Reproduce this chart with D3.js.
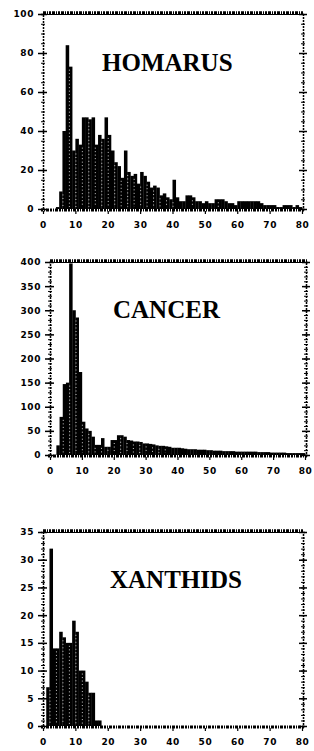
<!DOCTYPE html>
<html>
<head>
<meta charset="utf-8">
<script src="https://cdn.jsdelivr.net/npm/d3@7"></script>
<style>
  body { margin: 0; background: #fff; }
  .tick text { font-family: "DejaVu Sans", sans-serif; font-weight: bold; font-size: 9px; letter-spacing: 0.6px; }
  .title { font-family: "Liberation Serif", serif; font-weight: bold; font-size: 25px; }
</style>
</head>
<body>
<svg id="chart" width="314" height="751"></svg>
<script>
// counts per 1-unit bin, 0..79
var homarus = [0,0,0,0,1,9,40,84,73,30, 36,33,47,47,46,47,33,38,36,47,
               38,30,24,22,16,30,19,17,18,13, 19,17,14,11,12,11,7,8,6,5,
               15,6,4,4,7,7,6,4,4,3, 4,3,3,5,5,5,4,3,3,2,
               4,4,4,4,4,4,4,3,2,2, 2,2,1,1,2,2,2,1,2,1]
var cancer = [0,0,20,79,147,150,397,300,285,172, 69,55,50,38,21,21,35,17,17,31,
              31,41,41,38,31,30,28,28,27,24, 24,23,22,20,19,19,18,17,15,15,
              15,14,13,12,12,12,11,11,11,10, 10,9,9,9,8,8,8,8,7,7,
              7,7,7,7,7,6,6,6,6,5, 5,5,5,5,4,4,4,4,4,4]
var xanthids = [0,7,32,14,14,17,16,15,15,19, 17,10,10,8,6,6,1,1,0,0,
                0,0,0,0,0,0,0,0,0,0, 0,0,0,0,0,0,0,0,0,0,
                0,0,0,0,0,0,0,0,0,0, 0,0,0,0,0,0,0,0,0,0,
                0,0,0,0,0,0,0,0,0,0, 0,0,0,0,0,0,0,0,0,0]

var xTicks = [0,10,20,30,40,50,60,70,80]
var homarusTicks = [0,20,40,60,80,100]
var cancerTicks = [0,50,100,150,200,250,300,350,400]
var xanthidsTicks = [0,5,10,15,20,25,30,35]

var panels = [
    {name: "HOMARUS", data: homarus, ymax: 100, ticks: homarusTicks, minor: 5,
     left: 43, right: 302, top: 14, bottom: 209, tx: 102, ty: 71},
    {name: "CANCER", data: cancer, ymax: 400, ticks: cancerTicks, minor: 10,
     left: 50, right: 305, top: 262, bottom: 455, tx: 113, ty: 318},
    {name: "XANTHIDS", data: xanthids, ymax: 35, ticks: xanthidsTicks, minor: 1,
     left: 43, right: 302, top: 532, bottom: 726, tx: 110, ty: 588}
]

var svg = d3.select("#chart")

panels.forEach(function(p) {
    var x = d3.scaleLinear().domain([0, 80]).range([p.left, p.right])
    var y = d3.scaleLinear().domain([0, p.ymax]).range([p.bottom, p.top])
    var minorTicks = d3.range(0, p.ymax + 0.001, p.minor)

    var g = svg.append("g")

    // bars
    g.selectAll("rect.bar")
        .data(p.data)
        .enter()
        .append("rect")
        .attr("class", "bar")
        .attr("x", function(d, i) { return x(i) })
        .attr("width", function(d, i) { return x(i + 1) - x(i) + 0.3 })
        .attr("y", function(d) { return y(d) })
        .attr("height", function(d) { return y(0) - y(d) })
        .attr("fill", "#000")

    // white stipple between neighbouring bars
    g.selectAll("line.sep")
        .data(p.data.map(function(d, i) { return {i: i, h: i > 0 ? Math.min(d, p.data[i - 1]) : 0} })
            .filter(function(d) { return d.h > 4 * p.ymax / 100 && d.i % 2 == 0 }))
        .enter()
        .append("line")
        .attr("class", "sep")
        .attr("x1", function(d) { return x(d.i) + 0.5 })
        .attr("x2", function(d) { return x(d.i) + 0.5 })
        .attr("y1", function(d) { return y(d.h) + 3 })
        .attr("y2", y(0) - 2)
        .attr("stroke", "#fff")
        .attr("stroke-width", 0.8)
        .attr("stroke-dasharray", "1,2.5")

    // top frame (rough hatched band)
    g.append("line")
        .attr("x1", p.left).attr("x2", p.right + 2)
        .attr("y1", p.top - 1).attr("y2", p.top - 1)
        .attr("stroke", "#000").attr("stroke-width", 3.5)
        .attr("stroke-dasharray", "3,1,1,1,2,1")
    g.append("line")
        .attr("x1", p.left).attr("x2", p.right + 2)
        .attr("y1", p.top + 0.5).attr("y2", p.top + 0.5)
        .attr("stroke", "#000").attr("stroke-width", 1)

    // bottom frame
    g.append("line")
        .attr("x1", p.left - 2).attr("x2", p.right + 2)
        .attr("y1", y(0) + 1).attr("y2", y(0) + 1)
        .attr("stroke", "#000").attr("stroke-width", 3)
        .attr("stroke-dasharray", "2,1,1,1,3,1")

    // left axis: minor ticks
    g.append("g")
        .attr("transform", `translate(${p.left},0)`)
        .call(d3.axisLeft(y).tickValues(minorTicks).tickSize(2).tickFormat(""))
        .call(function(a) {
            a.select(".domain").attr("stroke-width", 1.5).attr("stroke-dasharray", "2,1")
            a.selectAll(".tick line").attr("x2", -2).attr("x1", 2)
        })
    // left axis: major ticks crossing the axis
    g.append("g")
        .attr("transform", `translate(${p.left},0)`)
        .call(d3.axisLeft(y).tickValues(p.ticks).tickSize(5).tickPadding(4))
        .call(function(a) {
            a.select(".domain").remove()
            a.selectAll(".tick line").attr("x1", 4).attr("stroke-width", 1.5)
        })

    // right axis
    g.append("g")
        .attr("transform", `translate(${p.right + 1},0)`)
        .call(d3.axisRight(y).tickValues(minorTicks).tickSize(2).tickFormat(""))
        .call(function(a) {
            a.select(".domain").attr("stroke-width", 1.5).attr("stroke-dasharray", "2,1")
            a.selectAll(".tick line").attr("x2", 2).attr("x1", -2)
        })
    g.append("g")
        .attr("transform", `translate(${p.right + 1},0)`)
        .call(d3.axisRight(y).tickValues(p.ticks).tickSize(4).tickFormat(""))
        .call(function(a) {
            a.select(".domain").remove()
            a.selectAll(".tick line").attr("x1", -4).attr("stroke-width", 1.5)
        })

    // bottom axis labels
    g.append("g")
        .attr("transform", `translate(0,${y(0) + 2})`)
        .call(d3.axisBottom(x).tickValues(xTicks).tickSize(3).tickPadding(8))
        .call(function(a) {
            a.select(".domain").remove()
            a.selectAll(".tick line").attr("stroke-width", 1.2)
        })

    // title
    g.append("text")
        .attr("class", "title")
        .attr("x", p.tx)
        .attr("y", p.ty)
        .text(p.name)
})
</script>
</body>
</html>
